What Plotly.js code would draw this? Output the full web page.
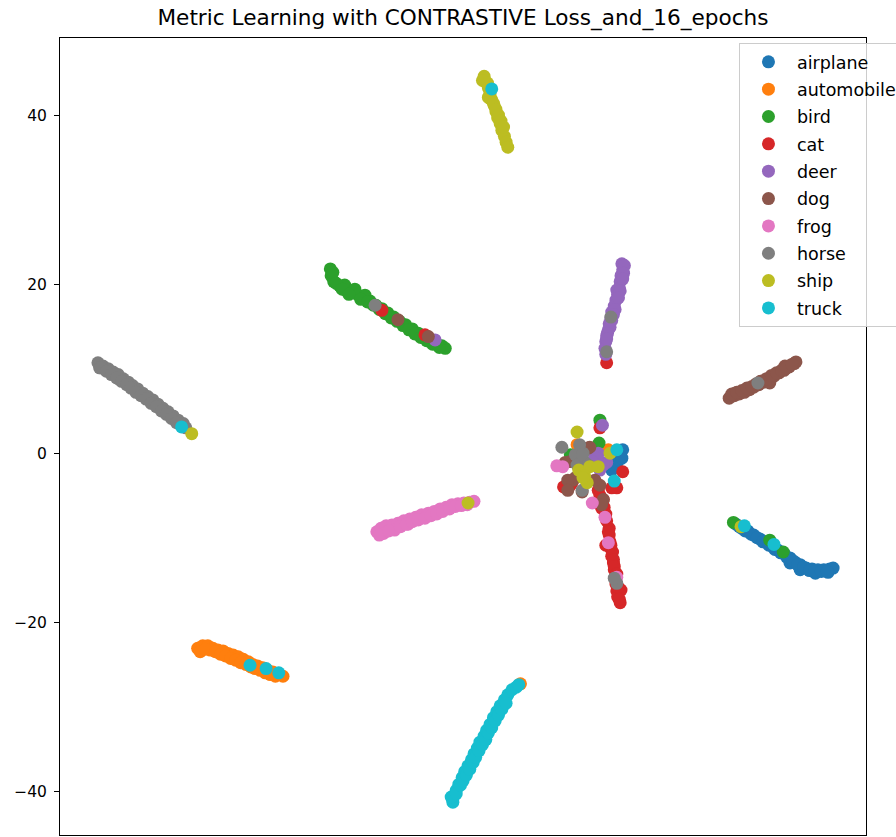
<!DOCTYPE html>
<html>
<head>
<meta charset="utf-8">
<script src="https://cdn.plot.ly/plotly-3.0.1.min.js"></script>
<style>html,body{margin:0;padding:0;background:#fff;}#chart{width:896px;height:837px;}</style>
</head>
<body>
<div id="chart"></div>
<script>
const classNames = ["airplane","automobile","bird","cat","deer","dog","frog","horse","ship","truck"];
const classColors = ["#1f77b4","#ff7f0e","#2ca02c","#d62728","#9467bd","#8c564b","#e377c2","#7f7f7f","#bcbd22","#17becf"];
const yTickValues = [-40,-20,0,20,40];

const airplaneX = [32.3,33.0,33.7,34.4,35.2,35.9,36.6,37.3,38.0,38.7,39.3,39.9,40.6,41.3,42.0,42.7,43.4,43.8,39.9,38.7,41.7,43.2, 32.7,33.4,34.1,34.8,35.5,36.2,36.9,37.6,38.3,39.0,39.6,40.3,41.0,41.6,42.4,43.1, 18.6,18.0,18.9,17.6,18.3,17.6,18.8];
const airplaneY = [-8.3,-8.8,-9.1,-9.6,-10.1,-10.4,-10.9,-11.4,-11.8,-12.3,-12.8,-13.1,-13.5,-13.6,-13.7,-13.7,-13.6,-13.5,-13.7,-12.9,-14.1,-14.0, -8.6,-9.1,-9.5,-9.9,-10.4,-10.8,-11.3,-11.7,-12.2,-12.6,-13.1,-13.4,-13.8,-13.9,-13.9,-13.9, -0.1,-1.1,0.5,-0.5,-0.9,-1.9,-0.5];

const automobileX = [-31.4,-30.8,-30.2,-29.6,-29.0,-28.4,-27.8,-27.2,-26.6,-26.0,-25.4,-24.9,-24.3,-23.7,-23.1,-22.5,-21.9,-21.3,-31.1,-29.9, -30.5,-29.3,-28.7,-28.1,-27.5,-26.9,-26.3,-25.7,-25.1,-24.6,-24.0,-23.4,-22.8,-22.2, 13.5,17.2, 6.8];
const automobileY = [-23.0,-22.7,-22.7,-23.0,-23.2,-23.3,-23.6,-23.8,-24.0,-24.3,-24.6,-24.9,-25.1,-25.3,-25.6,-25.8,-26.0,-26.3,-23.4,-23.2, -23.1,-23.4,-23.7,-23.9,-24.2,-24.4,-24.7,-24.9,-25.2,-25.4,-25.6,-25.9,-26.1,-26.3, 1.1,0.5,-27.2];

const birdX = [-15.7,-15.6,-15.3,-14.6,-13.9,-13.1,-12.4,-11.7,-11.0,-10.3,-9.6,-8.9,-8.2,-7.5,-6.8,-6.0,-5.3,-4.6,-3.9,-3.2,-2.5,-2.1,-14.0,-12.8,-11.6, -15.4,-15.0,-14.3,-13.5,-12.1,-11.3,-10.6,-9.9,-9.2,-8.5,-7.8,-7.1,-6.4,-5.7,-5.0,-4.3,-3.6,-2.8, 32.0,36.3,37.9, 16.2,16.1,12.7];
const birdY = [21.9,21.1,20.4,19.9,19.4,19.2,18.8,18.5,18.1,17.6,17.2,16.7,16.2,15.7,15.3,14.8,14.3,13.9,13.5,13.1,12.8,12.5,20.0,19.5,18.8, 21.5,20.2,19.5,18.9,18.3,18.0,17.6,17.1,16.6,16.1,15.7,15.2,14.7,14.2,13.8,13.4,13.0,12.6, -8.1,-10.2,-11.6, 4.0,1.3,-0.1];

const catX = [16.6,16.7,16.9,17.0,17.3,17.3,17.4,17.5,17.6,17.8,17.9,18.0,18.1,18.2,18.3,18.6,16.9,18.7, 17.2,17.5,17.7,17.8,17.9,18.2,18.4,18.5, -9.6,-4.5, 17.0, 18.9,18.2,12.9,16.2,16.0,12.7,16.2,16.4,11.9,17.6];
const catY = [-5.4,-6.3,-7.1,-7.9,-8.8,-9.6,-10.4,-11.2,-12.1,-12.9,-13.7,-14.6,-15.4,-16.2,-16.9,-17.6,-10.8,-16.1, -9.2,-10.8,-11.6,-12.5,-13.3,-14.2,-15.8,-17.2, 17.0,14.1, 10.8, -2.1,-4.0,-3.4,3.1,-4.3,-3.7,-4.9,-6.4,-3.9,-4.0];

const deerX = [18.8,18.9,18.7,18.6,18.5,18.3,18.1,17.9,17.6,17.5,17.3,17.2,17.0,16.9,16.8,16.9,19.1,18.2, 19.0,18.9,18.6,18.4,18.0,17.8,17.6,17.4,17.1,17.0, -3.3, 16.5,16.0,17.0,15.6,16.2,15.9,16.6,15.3];
const deerY = [22.5,21.8,21.1,20.4,19.6,18.9,18.2,17.5,16.8,16.1,15.4,14.7,14.0,13.3,12.5,11.8,22.3,19.4, 21.4,20.7,19.3,18.5,17.1,16.5,15.8,15.0,14.3,13.6, 13.5, 3.4,0.1,-1.0,-0.1,-1.9,-0.5,-1.3,-0.9];

const dogX = [31.5,32.1,32.7,33.3,33.9,34.4,35.0,35.6,36.2,36.8,37.4,38.0,38.6,39.2,39.4,32.2,35.2,38.1,36.3, 31.8,32.4,33.0,33.6,34.2,34.7,35.3,35.9,36.5,37.1,37.7,38.3,38.9, -7.7,-4.1, 14.8,13.0,16.2,16.6,14.1,12.1,15.0,13.3,12.4,15.6,16.4,12.7,12.4];
const dogY = [6.6,6.9,7.1,7.3,7.6,7.9,8.2,8.5,8.9,9.2,9.6,9.9,10.3,10.7,10.9,7.2,8.6,10.4,8.4, 7.1,7.3,7.5,7.8,8.0,8.3,8.6,8.9,9.3,9.6,9.9,10.2,10.6, 15.9,13.9, 0.7,-3.1,-3.7,-5.4,-4.5,-1.0,0.8,-2.8,-3.1,-3.1,-6.0,-0.9,-4.3];

const frogX = [-10.2,-9.7,-9.1,-8.4,-7.7,-7.0,-6.3,-5.6,-4.9,-4.1,-3.4,-2.7,-2.0,-1.3,-0.6,0.1,0.8,1.3,-9.4,-8.1,-6.5, -9.9,-8.8,-7.4,-6.7,-6.0,-5.3,-4.5,-3.8,-3.1,-2.4,-1.6,-0.9,-0.2,0.5, 11.8,11.1,15.3,16.8,17.2,18.2];
const frogY = [-9.2,-8.8,-8.5,-8.4,-8.2,-7.9,-7.7,-7.5,-7.2,-7.0,-6.8,-6.5,-6.3,-6.0,-5.9,-5.8,-5.7,-5.6,-9.4,-9.0,-8.3, -9.6,-9.1,-8.6,-8.3,-8.0,-7.8,-7.6,-7.3,-7.1,-6.8,-6.5,-6.2,-6.1,-6.0, -1.5,-1.4,-5.8,-7.5,-10.5,-14.6];

const horseX = [-43.2,-42.6,-42.0,-41.4,-40.8,-40.2,-39.6,-39.1,-38.5,-37.9,-37.3,-36.7,-36.1,-35.5,-34.9,-34.3,-33.7,-33.1,-32.8,-43.0,-40.6, -42.9,-42.2,-41.6,-41.0,-40.4,-39.8,-39.3,-38.7,-38.1,-37.5,-36.9,-36.3,-35.7,-35.1,-34.5,-33.9,-33.4, -10.4, 34.9, 17.5,17.0, 11.7,14.2,14.4,14.1,13.3,13.8,13.5,14.1,14.8,13.8, 18.2,17.9];
const horseY = [10.8,10.4,10.1,9.7,9.4,8.9,8.5,8.1,7.7,7.2,6.8,6.4,5.9,5.4,5.0,4.5,4.0,3.6,3.1,10.2,8.8, 10.2,9.8,9.4,9.0,8.6,8.2,7.8,7.3,6.9,6.5,6.0,5.6,5.1,4.7,4.2,3.7,3.4, 17.6, 8.4, 16.2,12.1, 0.8,0.1,-1.0,-4.3,-0.1,1.1,-1.3,-0.1,-1.3,-1.9, -15.3,-14.7];

const shipX = [2.5,2.7,3.0,3.2,3.4,3.7,3.9,4.1,4.4,4.6,4.9,5.1,5.3,2.3,3.0, 2.9,3.3,3.6,3.9,4.2,4.5,4.8, -32.1,0.6,32.9, 13.5,13.7,15.0,16.0,14.7,17.4,14.4,14.2];
const shipY = [44.7,44.0,43.3,42.6,41.9,41.2,40.5,39.8,39.1,38.3,37.6,36.9,36.3,44.2,42.2, 43.9,42.0,41.5,40.8,40.1,39.4,38.7, 2.4,-5.8,-8.6, 2.6,-1.9,-1.5,-1.5,-3.4,0.1,-2.6,-2.8];

const truckX = [-1.2,-1.1,-0.8,-0.5,-0.1,0.2,0.6,1.0,1.3,1.7,2.0,2.5,2.8,3.2,3.6,4.0,4.4,4.9,5.3,5.8,6.3,6.6, -1.4,-0.8,-0.3,0.0,0.4,0.8,1.2,1.5,1.9,2.3,2.7,3.0,3.4,3.8,4.2,4.6,5.1, 3.4,-33.3,-25.2,-23.3,-21.8,33.3,36.8,18.2,17.9];
const truckY = [-41.2,-40.5,-39.8,-39.1,-38.3,-37.6,-36.9,-36.2,-35.5,-34.8,-34.1,-33.4,-32.7,-32.0,-31.2,-30.5,-29.8,-29.1,-28.5,-27.9,-27.6,-27.3, -40.6,-40.2,-39.2,-38.7,-38.0,-37.3,-36.5,-35.9,-35.1,-34.4,-33.8,-33.0,-32.4,-31.6,-30.9,-30.2,-29.5, 43.2,3.2,-25.0,-25.4,-25.9,-8.5,-10.7,0.5,-3.2];

const seriesX = [airplaneX,automobileX,birdX,catX,deerX,dogX,frogX,horseX,shipX,truckX];
const seriesY = [airplaneY,automobileY,birdY,catY,deerY,dogY,frogY,horseY,shipY,truckY];

const traces = classNames.map((name, i) => ({
  type: 'scatter', mode: 'markers', name: name,
  x: seriesX[i], y: seriesY[i],
  legendgroup: 'g' + i,
  marker: {color: classColors[i], size: 13, line: {width: 0}},
  hoverinfo: 'skip'
}));

const layout = {
  width: 896, height: 837,
  margin: {l: 60, r: 30, t: 38, b: 2, autoexpand: false},
  paper_bgcolor: '#fff', plot_bgcolor: '#fff',
  font: {family: 'DejaVu Sans', color: '#000'},
  title: {text: 'Metric Learning with CONTRASTIVE Loss_and_16_epochs', font: {size: 21.6, color: '#000'},
          x: 0.5, xanchor: 'center', xref: 'paper', y: 1 - 17/837, yref: 'container', yanchor: 'middle'},
  xaxis: {range: [-47.69, 47.69], showgrid: false, zeroline: false, showticklabels: false, ticks: '',
          showline: true, mirror: true, linecolor: '#000', linewidth: 1},
  yaxis: {range: [-45.09, 49.23], showgrid: false, zeroline: false, tickvals: yTickValues,
          ticks: 'outside', ticklen: 5, tickwidth: 1, tickcolor: '#000', ticklabelstandoff: 4,
          tickfont: {size: 15.5, color: '#000'},
          showline: true, mirror: true, linecolor: '#000', linewidth: 1},
  showlegend: true,
  legend: {x: 0.8424, xanchor: 'left', y: 0.9938, yanchor: 'top', bgcolor: 'rgba(255,255,255,0.8)',
           bordercolor: '#cccccc', borderwidth: 1, font: {size: 17.5, color: '#000'},
           tracegroupgap: 1.6, itemwidth: 47, itemsizing: 'trace', traceorder: 'grouped'}
};

Plotly.newPlot('chart', traces, layout, {staticPlot: true, displayModeBar: false});
</script>
</body>
</html>
